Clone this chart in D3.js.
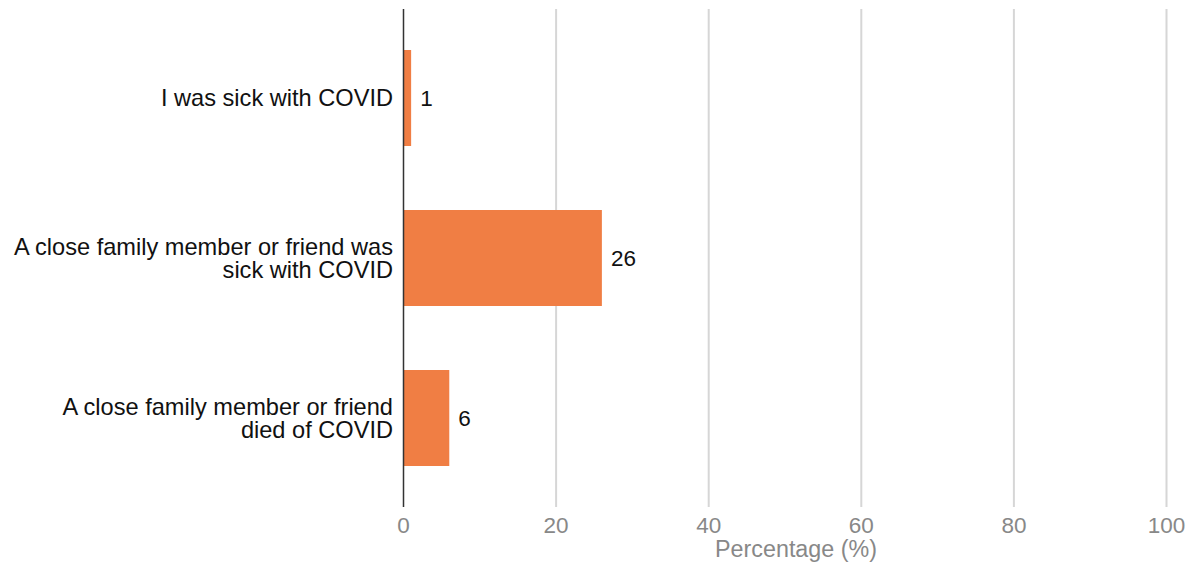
<!DOCTYPE html>
<html><head><meta charset="utf-8">
<script src="https://cdn.jsdelivr.net/npm/d3@7"></script>
<style>body{margin:0;background:#fff;font-family:"Liberation Sans",Arial,sans-serif;}</style>
</head><body><svg id="c" width="1193" height="565"></svg>
<script>
const categories = [["I was sick with COVID"],["A close family member or friend was","sick with COVID"],["A close family member or friend","died of COVID"]];
const values = [1, 26, 6];
const ticks = [0, 20, 40, 60, 80, 100];
const axisTitle = "Percentage (%)";

const svg = d3.select("#c");
const x = d3.scaleLinear().domain([0, 100]).range([403.5, 1166.5]);
const y = d3.scaleBand().domain(d3.range(categories.length)).range([18, 498]).paddingInner(0.4).paddingOuter(0.2);

svg.append("g").selectAll("line").data(ticks.slice(1)).join("line")
  .attr("x1", d => x(d)).attr("x2", d => x(d)).attr("y1", 9).attr("y2", 507)
  .attr("stroke", "#d6d6d6").attr("stroke-width", 2);

svg.append("g").selectAll("rect").data(values).join("rect")
  .attr("x", x(0)).attr("y", (d, i) => y(i)).attr("width", d => x(d) - x(0)).attr("height", y.bandwidth())
  .attr("fill", "#f07e44");

svg.append("line").attr("x1", x(0)).attr("x2", x(0)).attr("y1", 9).attr("y2", 507)
  .attr("stroke", "#333").attr("stroke-width", 1.5);

svg.append("g").selectAll("text").data(values).join("text")
  .attr("x", d => x(d) + 9).attr("y", (d, i) => y(i) + y.bandwidth() / 2).attr("dy", "0.35em")
  .attr("font-size", 22.5).attr("fill", "#111").text(d => d);

const lab = svg.append("g").selectAll("text").data(categories).join("text")
  .attr("text-anchor", "end").attr("font-size", 23.6).attr("fill", "#111")
  .attr("transform", (d, i) => `translate(393,${y(i) + y.bandwidth() / 2})`);
lab.selectAll("tspan").data(d => d.map((t, j) => ({t, j, n: d.length}))).join("tspan")
  .attr("x", 0).attr("y", d => (d.j - (d.n - 1) / 2) * 23.5).attr("dy", "0.35em").text(d => d.t);

svg.append("g").selectAll("text").data(ticks).join("text")
  .attr("x", d => x(d)).attr("y", 525).attr("dy", "0.35em").attr("text-anchor", "middle")
  .attr("font-size", 22.5).attr("fill", "#888").text(d => d);

svg.append("text").attr("x", 796).attr("y", 549).attr("dy", "0.35em").attr("text-anchor", "middle")
  .attr("font-size", 23.3).attr("fill", "#888").text(axisTitle);
</script></body></html>
